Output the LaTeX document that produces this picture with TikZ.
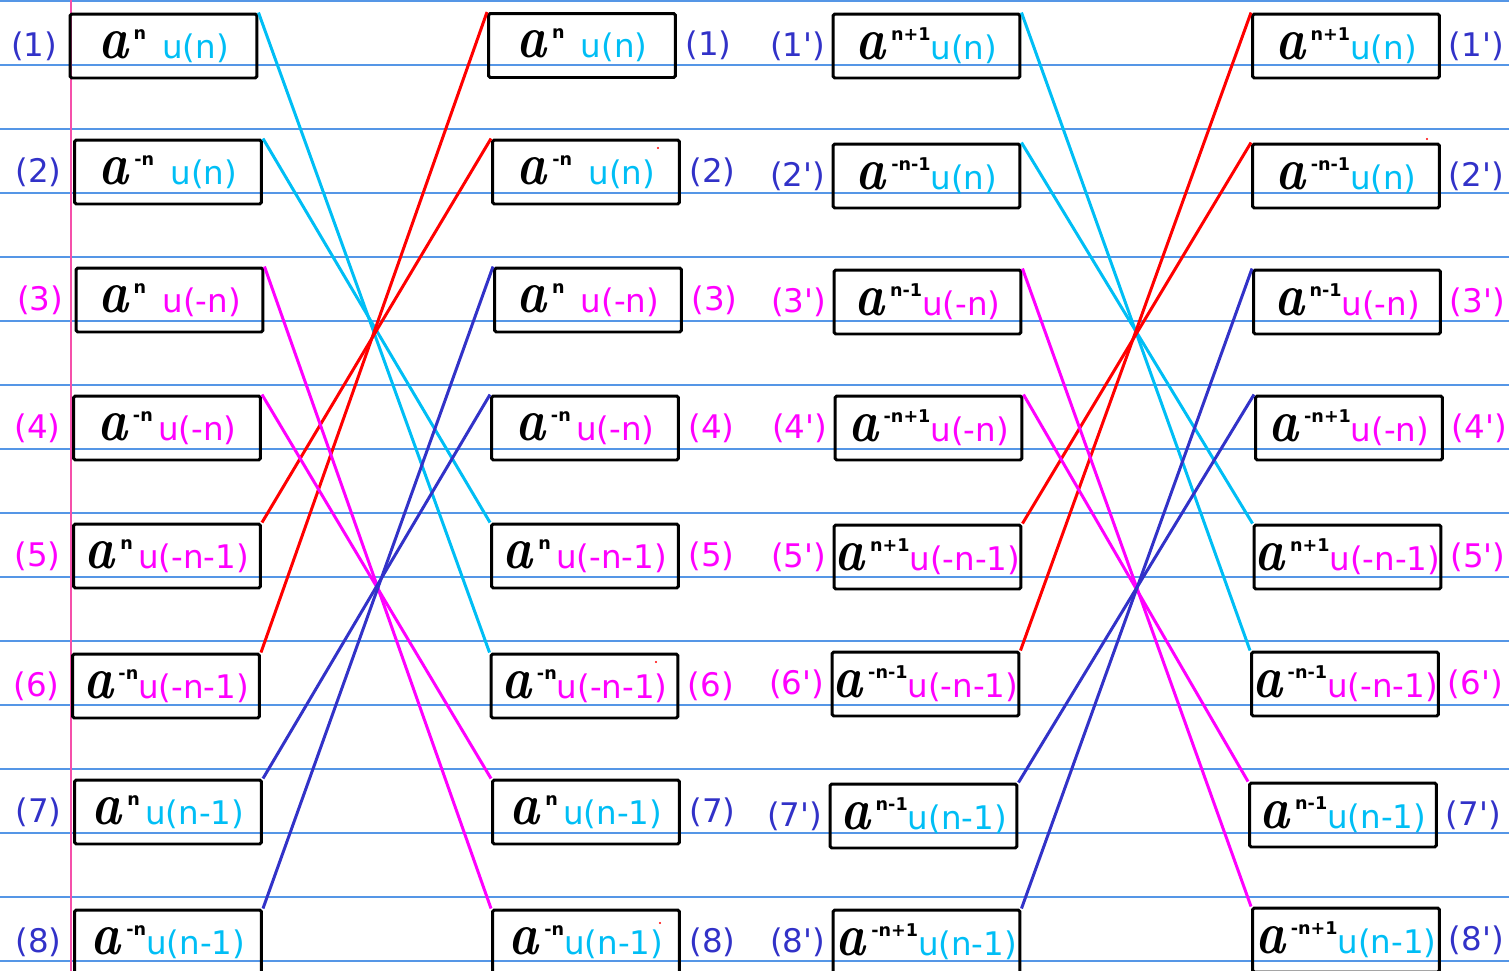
\documentclass[tikz,border=0pt]{standalone}
\usepackage{fontspec}
\usepackage{xcolor}
\usepackage{graphicx}
\usepackage{tikz}
\usetikzlibrary{positioning}
\newfontfamily\sansfont{DejaVu Sans}
\definecolor{rulecolor}{RGB}{85,150,230}
\definecolor{margincolor}{RGB}{245,80,170}
\definecolor{skycolor}{RGB}{0,190,245}
\definecolor{inkblue}{RGB}{50,50,200}
\definecolor{inkmag}{RGB}{255,0,255}
\definecolor{inkred}{RGB}{255,0,0}
\newcommand{\apow}[1]{\scalebox{0.85}[1]{\normalfont\fontsize{34}{34}\selectfont\bfseries\itshape a}\,\raisebox{11pt}{\sansfont\bfseries\fontsize{10}{10}\selectfont #1}}
\newcommand{\usky}[1]{{\color{skycolor}#1}}
\newcommand{\umag}[1]{{\color{inkmag}#1}}
\tikzset{
  term/.style={draw, line width=1.7pt, rounded corners=1pt, minimum width=3.74cm, minimum height=1.28cm, inner sep=0pt, font=\sansfont\fontsize{18.5}{18.5}\selectfont},
  tag/.style={inner sep=0pt, font=\sansfont\fontsize{18.5}{18.5}\selectfont},
  rule/.style={draw=rulecolor, line width=0.6pt},
  margin/.style={draw=margincolor, line width=0.9pt},
  wire/.style={line width=1.7pt},
}

\begin{document}
\begin{tikzpicture}[x=0.02cm, y=-0.02cm]
\useasboundingbox (0,0) rectangle (1509,971);
% ruled paper
\foreach \y in {1,65,...,961} \draw[rule] (0,\y) -- (1509,\y);
\draw[margin] (71,0) -- (71,971);

% first column
\node[term] (a1) at (163.5,46) {\apow{n}\hspace{0.5em}\usky{u(n)}};
\node[term] (a2) at (168,172) {\apow{-n}\hspace{0.5em}\usky{u(n)}};
\node[term] (a3) at (169.5,300) {\apow{n}\hspace{0.5em}\umag{u(-n)}};
\node[term] (a4) at (167,428) {\apow{-n}\,\umag{u(-n)}};
\node[term] (a5) at (167,556) {\apow{n}\,\umag{u(-n-1)}};
\node[term] (a6) at (166,686) {\apow{-n}\umag{u(-n-1)}};
\node[term] (a7) at (168,812) {\apow{n}\,\usky{u(n-1)}};
\node[term] (a8) at (168,942) {\apow{-n}\usky{u(n-1)}};
\node[tag, text=inkblue, left=2.2mm of a1] (la1) {(1)};
\node[tag, text=inkblue, left=2.2mm of a2] (la2) {(2)};
\node[tag, text=inkmag, left=2.2mm of a3] (la3) {(3)};
\node[tag, text=inkmag, left=2.2mm of a4] (la4) {(4)};
\node[tag, text=inkmag, left=2.2mm of a5] (la5) {(5)};
\node[tag, text=inkmag, left=2.2mm of a6] (la6) {(6)};
\node[tag, text=inkblue, left=2.2mm of a7] (la7) {(7)};
\node[tag, text=inkblue, left=2.2mm of a8] (la8) {(8)};

% second column
\node[term] (b1) at (582,45.5) {\apow{n}\hspace{0.5em}\usky{u(n)}};
\node[term] (b2) at (586,172) {\apow{-n}\hspace{0.5em}\usky{u(n)}};
\node[term] (b3) at (588,300) {\apow{n}\hspace{0.5em}\umag{u(-n)}};
\node[term] (b4) at (585,428) {\apow{-n}\,\umag{u(-n)}};
\node[term] (b5) at (585,556) {\apow{n}\,\umag{u(-n-1)}};
\node[term] (b6) at (584.5,686) {\apow{-n}\umag{u(-n-1)}};
\node[term] (b7) at (586,812) {\apow{n}\,\usky{u(n-1)}};
\node[term] (b8) at (586,942) {\apow{-n}\usky{u(n-1)}};
\node[tag, text=inkblue, right=1.6mm of b1] (lb1) {(1)};
\node[tag, text=inkblue, right=1.6mm of b2] (lb2) {(2)};
\node[tag, text=inkmag, right=1.6mm of b3] (lb3) {(3)};
\node[tag, text=inkmag, right=1.6mm of b4] (lb4) {(4)};
\node[tag, text=inkmag, right=1.6mm of b5] (lb5) {(5)};
\node[tag, text=inkmag, right=1.6mm of b6] (lb6) {(6)};
\node[tag, text=inkblue, right=1.6mm of b7] (lb7) {(7)};
\node[tag, text=inkblue, right=1.6mm of b8] (lb8) {(8)};

% third column
\node[term] (c1) at (926.5,46) {\apow{n+1}\usky{u(n)}};
\node[term] (c2) at (926.5,176) {\apow{-n-1}\usky{u(n)}};
\node[term] (c3) at (927.5,302) {\apow{n-1}\umag{u(-n)}};
\node[term] (c4) at (928.5,428) {\apow{-n+1}\umag{u(-n)}};
\node[term] (c5) at (927.5,557) {\apow{n+1}\umag{u(-n-1)}};
\node[term] (c6) at (925.5,684) {\apow{-n-1}\umag{u(-n-1)}};
\node[term] (c7) at (923.5,816) {\apow{n-1}\usky{u(n-1)}};
\node[term] (c8) at (926.5,942) {\apow{-n+1}\usky{u(n-1)}};
\node[tag, text=inkblue, left=1.2mm of c1] (lc1) {(1')};
\node[tag, text=inkblue, left=1.2mm of c2] (lc2) {(2')};
\node[tag, text=inkmag, left=1.2mm of c3] (lc3) {(3')};
\node[tag, text=inkmag, left=1.2mm of c4] (lc4) {(4')};
\node[tag, text=inkmag, left=1.2mm of c5] (lc5) {(5')};
\node[tag, text=inkmag, left=1.2mm of c6] (lc6) {(6')};
\node[tag, text=inkblue, left=1.2mm of c7] (lc7) {(7')};
\node[tag, text=inkblue, left=1.2mm of c8] (lc8) {(8')};

% fourth column
\node[term] (d1) at (1346,46) {\apow{n+1}\usky{u(n)}};
\node[term] (d2) at (1346,176) {\apow{-n-1}\usky{u(n)}};
\node[term] (d3) at (1347,302) {\apow{n-1}\umag{u(-n)}};
\node[term] (d4) at (1349,428) {\apow{-n+1}\umag{u(-n)}};
\node[term] (d5) at (1347.5,557) {\apow{n+1}\umag{u(-n-1)}};
\node[term] (d6) at (1345,684) {\apow{-n-1}\umag{u(-n-1)}};
\node[term] (d7) at (1343,815) {\apow{n-1}\usky{u(n-1)}};
\node[term] (d8) at (1346,940) {\apow{-n+1}\usky{u(n-1)}};
\node[tag, text=inkblue, right=1.5mm of d1] (ld1) {(1')};
\node[tag, text=inkblue, right=1.5mm of d2] (ld2) {(2')};
\node[tag, text=inkmag, right=1.5mm of d3] (ld3) {(3')};
\node[tag, text=inkmag, right=1.5mm of d4] (ld4) {(4')};
\node[tag, text=inkmag, right=1.5mm of d5] (ld5) {(5')};
\node[tag, text=inkmag, right=1.5mm of d6] (ld6) {(6')};
\node[tag, text=inkblue, right=1.5mm of d7] (ld7) {(7')};
\node[tag, text=inkblue, right=1.5mm of d8] (ld8) {(8')};

% crossings, left pair
\draw[wire, skycolor] (a1.north east) -- (b6.north west);
\draw[wire, skycolor] (a2.north east) -- (b5.north west);
\draw[wire, inkred] (a5.north east) -- (b2.north west);
\draw[wire, inkred] (a6.north east) -- (b1.north west);
\draw[wire, inkmag] (a3.north east) -- (b8.north west);
\draw[wire, inkmag] (a4.north east) -- (b7.north west);
\draw[wire, inkblue] (a7.north east) -- (b4.north west);
\draw[wire, inkblue] (a8.north east) -- (b3.north west);

% crossings, right pair
\draw[wire, skycolor] (c1.north east) -- (d6.north west);
\draw[wire, skycolor] (c2.north east) -- (d5.north west);
\draw[wire, inkred] (c5.north east) -- (d2.north west);
\draw[wire, inkred] (c6.north east) -- (d1.north west);
\draw[wire, inkmag] (c3.north east) -- (d8.north west);
\draw[wire, inkmag] (c4.north east) -- (d7.north west);
\draw[wire, inkblue] (c7.north east) -- (d4.north west);
\draw[wire, inkblue] (c8.north east) -- (d3.north west);

% stray dots
\fill[inkred] (658,148) circle (0.6pt);
\fill[inkred] (656,662) circle (0.6pt);
\fill[inkred] (660,923) circle (0.6pt);
\fill[inkred] (1427,139) circle (0.6pt);
\end{tikzpicture}
\end{document}
